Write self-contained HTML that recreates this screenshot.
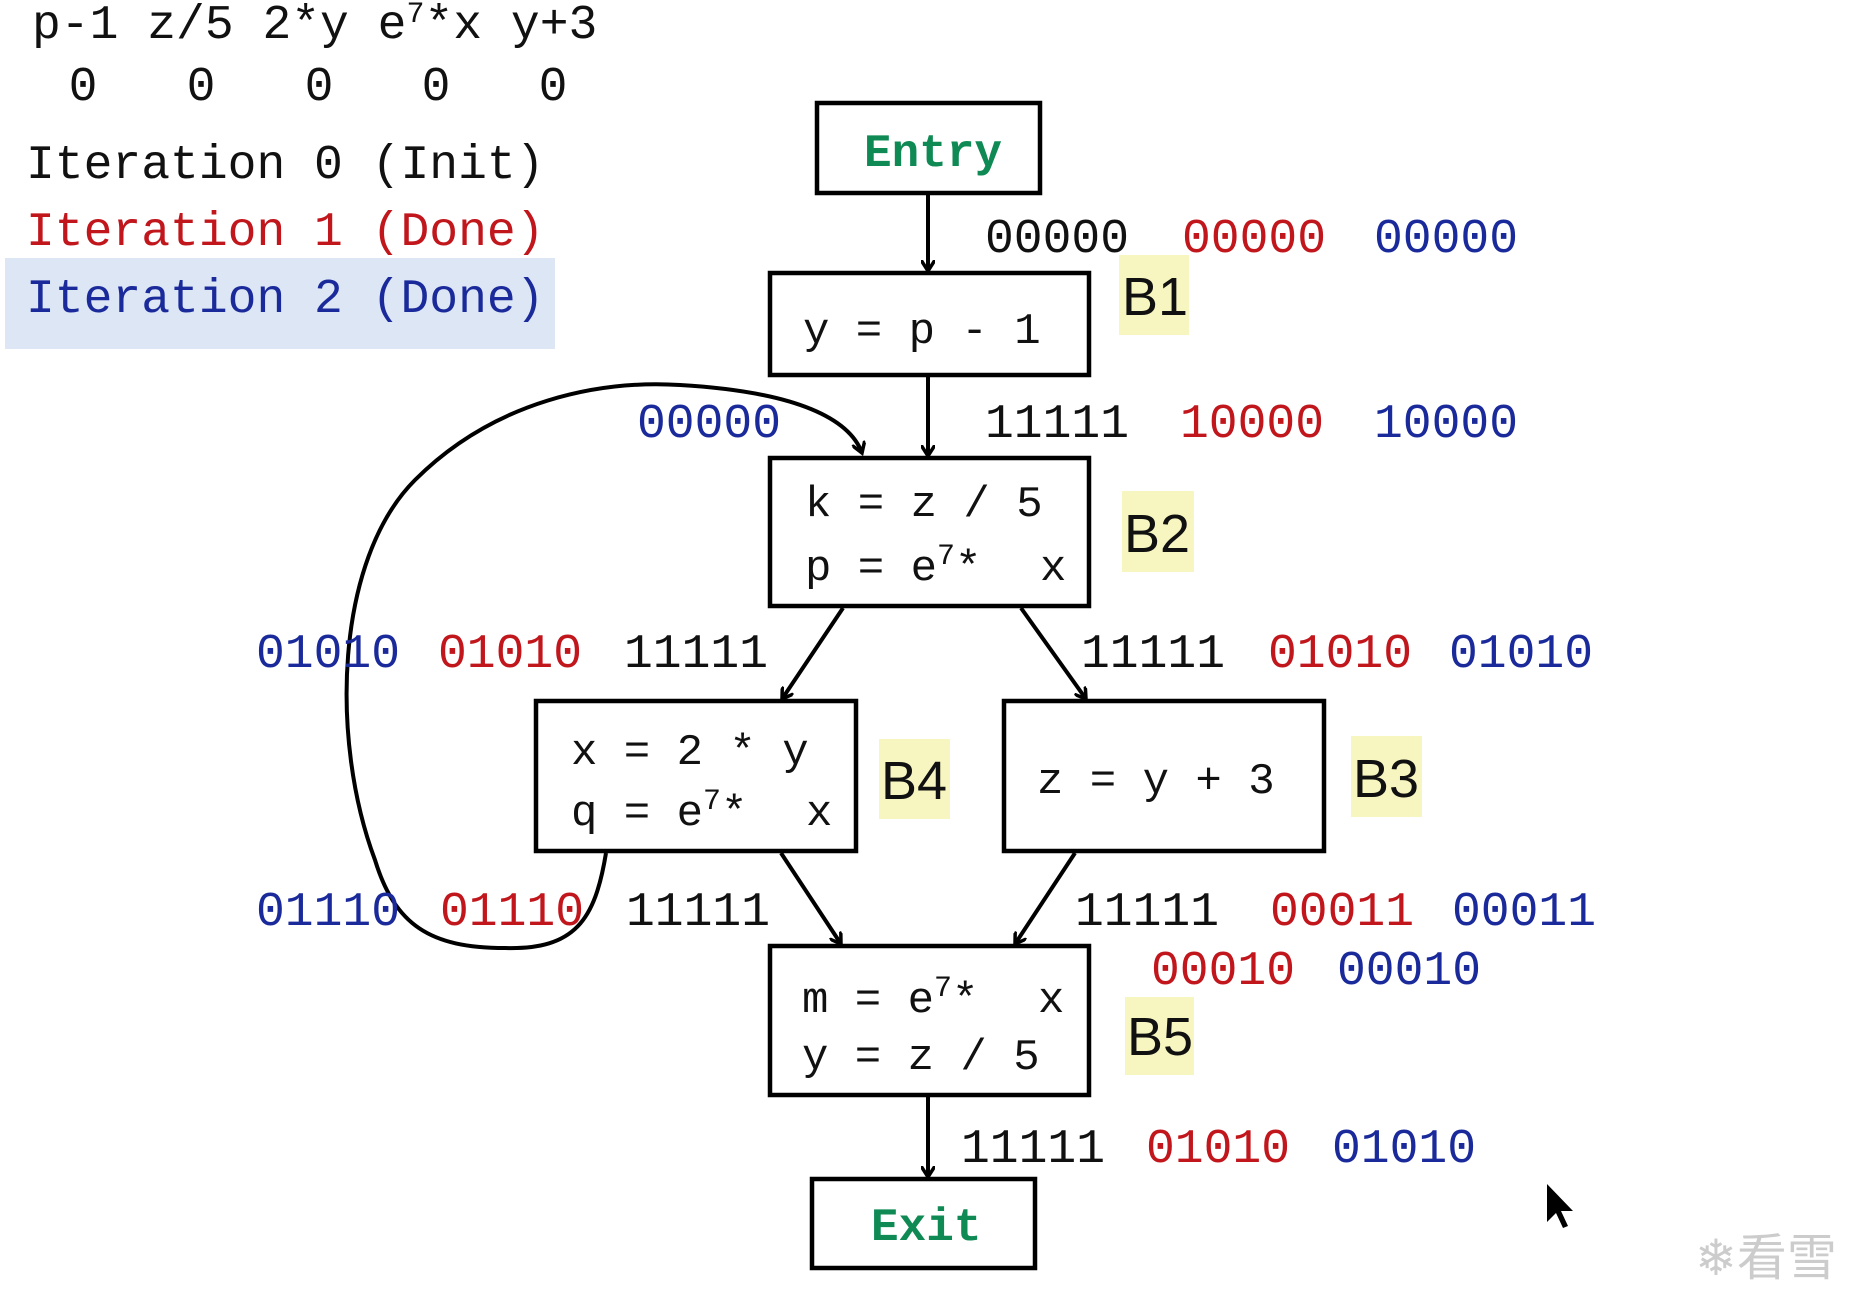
<!DOCTYPE html>
<html><head><meta charset="utf-8"><style>
html,body{margin:0;padding:0;background:#fff;}
body{width:1857px;height:1304px;position:relative;overflow:hidden;}
svg{position:absolute;left:0;top:0;}
.m{font-family:"Liberation Mono",monospace;font-size:48px;}
.c{font-family:"Liberation Mono",monospace;font-size:44px;fill:#111;}
.k{fill:#111}.r{fill:#c0161c}.b{fill:#1a2a9a}
.g{font-family:"Liberation Mono",monospace;font-size:46px;font-weight:bold;fill:#108a55;}
.lb{font-family:"Liberation Sans",sans-serif;font-size:54px;fill:#111;}
.s{font-size:30px;}
</style></head><body>
<svg width="1857" height="1304" viewBox="0 0 1857 1304">
<defs><marker id="a" markerWidth="14" markerHeight="14" refX="11" refY="7" orient="auto" markerUnits="userSpaceOnUse"><path d="M0,0 L11,7 L0,14" fill="none" stroke="#000" stroke-width="3.5"/></marker></defs>
<rect x="5" y="258" width="550" height="91" fill="#dce6f5"/>
<text class="m k" x="32" y="38">p-1 z/5 2*y e<tspan class="s" dy="-16">7</tspan><tspan dy="16">*x y+3</tspan></text>
<g class="m k" text-anchor="middle">
<text x="83" y="100">0</text><text x="201" y="100">0</text><text x="319" y="100">0</text><text x="436" y="100">0</text><text x="553" y="100">0</text>
</g>
<text class="m k" x="26" y="178">Iteration 0 (Init)</text>
<text class="m r" x="26" y="245">Iteration 1 (Done)</text>
<text class="m b" x="26" y="312">Iteration 2 (Done)</text>
<g fill="#fff" stroke="#000" stroke-width="4.5">
<rect x="817" y="103" width="223" height="90"/>
<rect x="770" y="273" width="319" height="102"/>
<rect x="770" y="458" width="319" height="148"/>
<rect x="536" y="701" width="320" height="150"/>
<rect x="1004" y="701" width="320" height="150"/>
<rect x="770" y="946" width="319" height="149"/>
<rect x="812" y="1179" width="223" height="89"/>
</g>
<g fill="#f8f6c0">
<rect x="1119" y="255" width="70" height="80"/><rect x="1122" y="491" width="72" height="81"/>
<rect x="879" y="739" width="71" height="80"/><rect x="1351" y="736" width="71" height="81"/>
<rect x="1125" y="997" width="69" height="78"/>
</g>
<text class="lb" x="1122" y="315">B1</text><text class="lb" x="1124" y="552">B2</text>
<text class="lb" x="881" y="799">B4</text><text class="lb" x="1353" y="797">B3</text>
<text class="lb" x="1127" y="1055">B5</text>
<text class="g" x="864" y="166">Entry</text>
<text class="g" x="871" y="1240">Exit</text>
<text class="c" x="803" y="343">y = p - 1</text>
<text class="c" x="805" y="516">k = z / 5</text>
<text class="c" x="805" y="580">p = e<tspan class="s" dy="-16">7</tspan><tspan dy="16">*</tspan><tspan x="1040">x</tspan></text>
<text class="c" x="571" y="764">x = 2 * y</text>
<text class="c" x="571" y="825">q = e<tspan class="s" dy="-16">7</tspan><tspan dy="16">*</tspan><tspan x="806">x</tspan></text>
<text class="c" x="1037" y="793">z = y + 3</text>
<text class="c" x="802" y="1012">m = e<tspan class="s" dy="-16">7</tspan><tspan dy="16">*</tspan><tspan x="1038">x</tspan></text>
<text class="c" x="802" y="1069">y = z / 5</text>
<g stroke="#000" stroke-width="4" fill="none" marker-end="url(#a)">
<line x1="928" y1="193" x2="928" y2="271"/>
<line x1="928" y1="375" x2="928" y2="456"/>
<line x1="843" y1="608" x2="782" y2="699"/>
<line x1="1021" y1="608" x2="1086" y2="699"/>
<line x1="781" y1="853" x2="841" y2="944"/>
<line x1="1075" y1="853" x2="1015" y2="944"/>
<line x1="928" y1="1095" x2="928" y2="1177"/>
<path d="M606,853 C595,920 575,950 505,948 C430,948 395,925 375,860 C330,740 335,560 415,480 C495,400 600,380 680,385 C800,392 850,420 862,453"/>
</g>
<g class="m">
<text class="k" x="985" y="252">00000</text><text class="r" x="1182" y="252">00000</text><text class="b" x="1374" y="252">00000</text>
<text class="b" x="637" y="437">00000</text>
<text class="k" x="985" y="437">11111</text><text class="r" x="1180" y="437">10000</text><text class="b" x="1374" y="437">10000</text>
<text class="b" x="256" y="667">01010</text><text class="r" x="438" y="667">01010</text><text class="k" x="624" y="667">11111</text>
<text class="k" x="1081" y="667">11111</text><text class="r" x="1268" y="667">01010</text><text class="b" x="1449" y="667">01010</text>
<text class="b" x="256" y="925">01110</text><text class="r" x="440" y="925">01110</text><text class="k" x="626" y="925">11111</text>
<text class="k" x="1075" y="925">11111</text><text class="r" x="1270" y="925">00011</text><text class="b" x="1452" y="925">00011</text>
<text class="r" x="1151" y="984">00010</text><text class="b" x="1337" y="984">00010</text>
<text class="k" x="961" y="1162">11111</text><text class="r" x="1146" y="1162">01010</text><text class="b" x="1332" y="1162">01010</text>
</g>
<path d="M1547,1184 L1547,1222 L1556,1213 L1563,1228 L1568,1226 L1561,1211 L1573,1211 Z" fill="#000"/>
<text x="1695" y="1275" font-family="'Noto Sans CJK SC',sans-serif" font-size="50" fill="#ccc">❄看雪</text>
</svg>
</body></html>
